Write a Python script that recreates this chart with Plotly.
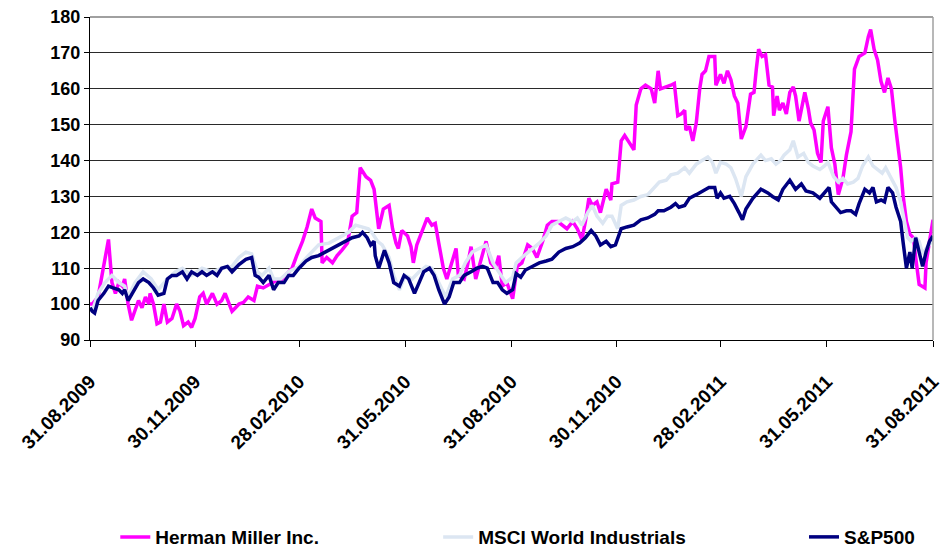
import plotly.graph_objects as go
import pandas as pd

START = "2009-08-31"

tick_dates = ["2009-08-31", "2009-11-30", "2010-02-28", "2010-05-31", "2010-08-31",
              "2010-11-30", "2011-02-28", "2011-05-31", "2011-08-31"]
tick_labels = ["31.08.2009", "30.11.2009", "28.02.2010", "31.05.2010", "31.08.2010",
               "30.11.2010", "28.02.2011", "31.05.2011", "31.08.2011"]
y_ticks = [90, 100, 110, 120, 130, 140, 150, 160, 170, 180]

# days since 31.08.2009, index values
hm_days = [0, 2, 7, 12, 16, 19, 22, 25, 28, 30, 33, 36, 39, 42, 45, 48, 51, 52, 55, 58,
           61, 64, 67, 71, 75, 78, 81, 85, 88, 91, 95, 98, 101, 106, 110, 114, 117, 121, 123, 126,
           129, 133, 137, 142, 145, 150, 156, 161, 165, 169, 175, 179, 184, 188, 192, 195, 200, 201, 205, 210,
           214, 218, 223, 227, 231, 234, 239, 243, 246, 250, 254, 259, 262, 265, 267, 270, 275, 278, 280, 283,
           288, 292, 296, 299, 302, 306, 309, 314, 317, 319, 324, 327, 330, 334, 338, 343, 347, 351, 354, 357,
           361, 366, 370, 374, 379, 383, 387, 392, 396, 400, 405, 409, 413, 418, 422, 426, 429, 432, 435, 439,
           442, 447, 451, 452, 457, 460, 463, 467, 471, 473, 477, 481, 486, 489, 492, 494, 499, 503, 506, 509,
           512, 515, 516, 519, 522, 525, 528, 530, 533, 536, 541, 542, 546, 549, 552, 555, 558, 561, 564, 568,
           572, 575, 577, 579, 582, 585, 588, 591, 592, 595, 597, 600, 603, 606, 609, 611, 614, 619, 622, 624,
           627, 630, 633, 635, 639, 642, 645, 648, 652, 655, 659, 662, 666, 671, 674, 676, 679, 682, 685, 688,
           691, 694, 697, 700, 702, 704, 707, 710, 713, 715, 718, 723, 724, 727, 730]
hm_vals = [100, 100, 102, 111, 118, 106, 103, 106, 105, 107, 100, 95.5, 98, 101, 99, 102, 100, 103, 100, 94.5,
           95, 100, 95, 96, 100, 98, 94, 95, 93.5, 96, 102, 103, 100, 103, 100, 101, 103, 100, 98, 99,
           100, 100.5, 102, 101, 105, 104.5, 105.5, 106.5, 106.5, 108, 110, 113.5, 117.5, 121.5, 126.5, 124, 123, 111.5, 113, 111.5,
           113.5, 115, 117, 124.5, 125.5, 138, 135.5, 134.5, 132, 121, 126.5, 127.5, 121, 117, 115.5, 120.5, 119, 116, 111.5, 116.5,
           121, 124, 122, 122.5, 117, 110, 107, 112.5, 115.5, 108, 107, 111, 116, 107, 111.5, 117.5, 111.5, 110, 113.5, 105,
           106, 101.5, 110.5, 111.5, 116.5, 115.5, 113, 117.5, 122, 123, 123, 122, 121, 123, 121, 118, 123, 129.5, 127.5, 128.5,
           125.5, 132, 129, 133.5, 134, 145.5, 147, 145, 143, 155.5, 160, 161, 160, 156, 165, 160, 160.5, 161, 161.5, 152.5,
           153, 154, 148.5, 149.5, 145.5, 150.5, 160, 164, 165, 169, 169, 161, 164, 161.5, 165, 162.5, 158, 156, 146, 149.5,
           158.5, 159, 165.5, 171, 169, 169.5, 161, 160.5, 152.5, 158, 154, 156, 153, 159, 160.5, 158, 151, 159, 154.5, 150.5,
           148.5, 142, 139.5, 151, 155, 143.5, 139, 130.5, 135, 141.5, 148, 165.5, 169, 170, 174.5, 176.5, 171, 168, 162, 159,
           163, 160, 151, 143.5, 138, 130.5, 123, 119.5, 118.5, 113, 105.5, 104.5, 111.5, 117.5, 123.5]

msci_days = [0, 2, 7, 13, 19, 25, 30, 33, 39, 46, 53, 59, 67, 74, 80, 88, 97, 106, 114, 123,
             129, 135, 140, 145, 149, 155, 159, 165, 172, 181, 189, 198, 207, 216, 224, 230, 236, 241, 244, 249,
             253, 259, 263, 268, 273, 279, 285, 291, 296, 302, 308, 314, 320, 325, 331, 337, 343, 349, 354, 360,
             366, 369, 374, 383, 389, 395, 400, 406, 412, 418, 422, 426, 431, 435, 439, 444, 448, 452, 457, 460,
             465, 471, 477, 483, 490, 493, 499, 503, 509, 515, 519, 525, 530, 535, 539, 542, 546, 551, 555, 559,
             564, 568, 574, 581, 585, 590, 594, 598, 601, 606, 609, 613, 618, 622, 626, 632, 636, 639, 644, 648,
             652, 656, 661, 665, 669, 674, 678, 682, 686, 689, 694, 698, 702, 705, 708, 711, 715, 718, 721, 724,
             729, 730]
msci_vals = [99, 98, 103, 106, 108, 106, 105, 102, 106, 109, 107, 104, 107, 109, 110, 108, 110, 109, 110, 110.5,
             113, 114.5, 114, 109, 108, 110, 107, 107, 109, 110.5, 113.5, 116.5, 117, 118.5, 120, 122, 121.5, 121, 120, 117.5,
             116.5, 113, 108, 104, 108, 107, 109, 110.5, 110, 106, 102, 107, 108, 111.5, 114.5, 115.5, 116.5, 111.5, 109, 106,
             107.5, 111.5, 113, 115.5, 117, 119, 122, 123, 124, 123, 124, 122, 125.5, 127.5, 124.5, 122.5, 124.5, 124.5, 121, 127.5,
             128.5, 129, 130, 130.5, 133, 134, 134.5, 136, 136.5, 138, 136.5, 139, 140, 141, 139.5, 136.5, 139.5, 139, 138, 135,
             130, 135.5, 139, 141.5, 140, 140.5, 139, 140, 141.5, 143, 145.5, 141, 142, 139.5, 138.5, 137.5, 138.5, 139.5, 135.5, 134,
             135, 133.5, 134, 135, 138.5, 141, 138.5, 137.5, 136.5, 138, 135, 132.5, 128.5, 124, 118.5, 117.5, 118.5, 117.5, 114, 115.5,
             117.5, 119]

sp_days = [0, 2, 4, 7, 12, 16, 20, 25, 28, 30, 33, 38, 42, 46, 51, 55, 59, 64, 67, 71,
           75, 80, 84, 88, 93, 97, 101, 106, 110, 114, 119, 123, 129, 135, 140, 143, 146, 150, 155, 159,
           163, 168, 172, 176, 181, 187, 192, 198, 204, 210, 216, 221, 227, 233, 236, 240, 243, 246, 247, 250,
           255, 259, 263, 268, 272, 276, 281, 285, 289, 294, 298, 302, 307, 311, 315, 320, 324, 330, 335, 340,
           344, 349, 353, 357, 361, 366, 369, 373, 377, 383, 389, 395, 400, 406, 412, 418, 424, 429, 434, 438,
           442, 447, 451, 455, 460, 465, 471, 477, 483, 489, 492, 497, 503, 507, 510, 515, 519, 525, 530, 536,
           541, 543, 546, 549, 554, 558, 562, 565, 568, 574, 581, 587, 591, 596, 600, 606, 611, 616, 620, 626,
           632, 636, 640, 642, 646, 650, 655, 659, 663, 666, 671, 675, 678, 681, 685, 688, 691, 695, 698, 702,
           704, 707, 710, 712, 715, 718, 721, 724, 727, 730]
sp_vals = [99, 98, 97.5, 101, 103, 105, 104.5, 104, 103, 104, 101, 104, 106, 107, 106, 104.5, 102.5, 103, 107, 108,
           108, 109, 107, 109, 108, 109, 108, 109, 108, 110, 110.5, 109, 111, 112.5, 113, 108, 107.5, 106, 108, 104,
           106, 106, 108, 108, 110, 112, 113, 113.5, 114.5, 115.5, 116.5, 117.5, 118.5, 119, 120, 118.5, 116.5, 117.5, 113.5, 110,
           115, 111.5, 106, 105, 108, 107, 103, 106, 109, 110, 108, 104, 100, 102, 106, 106, 108, 109, 110, 110.5,
           110, 106, 106, 104, 103, 104, 108.5, 107.5, 109.5, 110.5, 111.5, 112, 112.5, 114.5, 115.5, 116, 117, 118.5, 120.5, 119,
           116.5, 117.5, 116, 116.5, 121, 121.5, 122, 123.5, 124, 125, 126, 126, 127, 128, 127, 127.5, 129.5, 130.5, 131.5, 132.5,
           132.5, 129.5, 131, 129.5, 130, 128, 125.5, 123.5, 126.5, 129.5, 132, 131, 130, 129, 132, 134.5, 132, 133.5, 131.5, 131,
           129.5, 131, 132.5, 128.5, 127, 125.5, 126, 126, 125, 128, 132, 131, 132.5, 128.5, 129, 128.5, 132.5, 131, 127, 123,
           117.5, 110, 114.5, 110, 118.5, 114, 110.5, 114.5, 117.5, 119]

series_names = ["Herman Miller Inc.", "MSCI World Industrials", "S&P500"]
series_colors = ["#FF00FF", "#DCE6F2", "#000080"]


def to_dates(days):
    base = pd.Timestamp(START)
    return [base + pd.Timedelta(days=d) for d in days]


FONT = "Liberation Sans, Arial, sans-serif"

fig = go.Figure()
for name, color, days, vals, lg in zip(series_names, series_colors,
                                      [hm_days, msci_days, sp_days],
                                      [hm_vals, msci_vals, sp_vals],
                                      ["legend", "legend2", "legend3"]):
    fig.add_trace(go.Scatter(x=to_dates(days), y=vals, mode="lines", name=name,
                             line=dict(color=color, width=3.5), legend=lg))

legend_common = dict(orientation="h", yanchor="middle", xanchor="left",
                     font=dict(family=FONT, size=19, color="black", weight="bold"),
                     bgcolor="rgba(0,0,0,0)")

fig.update_layout(
    width=947, height=550,
    margin=dict(l=90, r=14, t=17, b=210, autoexpand=False),
    paper_bgcolor="white", plot_bgcolor="white",
    font=dict(family=FONT, color="black"),
    showlegend=True,
    legend=dict(x=0.03, y=-0.61, **legend_common),
    legend2=dict(x=0.413, y=-0.61, **legend_common),
    legend3=dict(x=0.847, y=-0.61, **legend_common),
    xaxis=dict(
        type="date", range=[tick_dates[0], tick_dates[-1]], automargin=False,
        tickmode="array", tickvals=tick_dates, ticktext=tick_labels,
        tickangle=-45, tickfont=dict(family=FONT, size=19, color="black", weight="bold"),
        showgrid=False, showline=True, linecolor="black", linewidth=1,
        ticks="outside", ticklen=6, tickcolor="black", zeroline=False,
        ticklabelstandoff=16,
    ),
    yaxis=dict(
        range=[90, 180], tickmode="array", tickvals=y_ticks, automargin=False,
        tickfont=dict(family=FONT, size=18, color="black", weight="bold"),
        showgrid=True, gridcolor="#2a2a2a", gridwidth=1,
        showline=True, linecolor="black", linewidth=1,
        ticks="outside", ticklen=5, tickcolor="black", zeroline=False,
    ),
    shapes=[
        dict(type="line", xref="paper", yref="paper", x0=0, x1=1, y0=1, y1=1,
             line=dict(color="#A0A0A0", width=2), layer="above"),
        dict(type="line", xref="paper", yref="paper", x0=1, x1=1, y0=0, y1=1,
             line=dict(color="#A0A0A0", width=1.5), layer="above"),
    ],
)

fig.write_html("out.html", config={"displayModeBar": False})

# remove the browser's default 8px body margin so the figure sits at the page corner
with open("out.html", encoding="utf-8") as f:
    html = f.read()
html = html.replace("<body>", '<body style="margin:0;padding:0;">', 1)
with open("out.html", "w", encoding="utf-8") as f:
    f.write(html)
